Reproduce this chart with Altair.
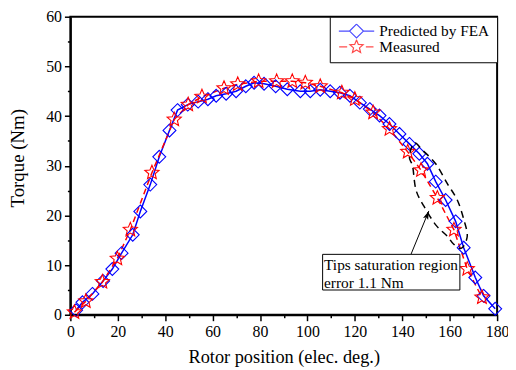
import altair as alt
import pandas as pd

# ---------------- data ----------------
fea_x = [2.4, 5.1, 9.3, 13.8, 17.7, 21.6, 26.3, 29.5, 33.7, 37.5, 41.8, 45.2, 49.5,
         53.9, 58.0, 61.5, 65.7, 69.9, 74.0, 77.5, 81.7, 86.6, 91.5, 97.0, 101.2,
         105.4, 109.6, 113.7, 117.9, 122.1, 126.3, 130.4, 134.6, 138.8, 143.0,
         147.2, 150.6, 154.1, 158.3, 162.5, 165.9, 170.8, 174.3, 179.2]
fea_y = [0.9, 2.5, 4.2, 6.8, 9.2, 12.4, 16.1, 20.8, 26.2, 31.8, 37.1, 41.2, 42.3,
         42.9, 43.4, 44.1, 44.5, 45.0, 46.0, 46.7, 46.5, 46.0, 45.4, 45.0, 45.0,
         45.3, 45.0, 44.7, 44.1, 42.7, 41.4, 40.1, 38.4, 36.4, 34.4,
         32.4, 30.4, 26.8, 23.1, 18.8, 13.5, 7.5, 3.8, 1.2]

meas_x = [1.7, 6.5, 13.5, 19.8, 25.3, 34.4, 43.8, 49.7, 55.5, 64.8, 70.6, 79.4,
          87.0, 93.6, 99.1, 105.4, 114.5, 120.0, 127.7, 134.6, 142.3, 147.9,
          154.8, 161.8, 167.4, 173.6]
meas_y = [0.5, 2.7, 6.6, 11.3, 17.1, 28.6, 39.3, 42.3, 43.9, 45.6, 46.4, 47.0,
          47.0, 47.0, 46.7, 46.0, 44.7, 43.4, 40.7, 37.4, 32.8, 29.1,
          23.5, 17.1, 9.2, 3.5]

series_names = ["Predicted by FEA", "Measured"]
series_colors = ["#0000FF", "#FF0000"]

# annotation (dashed ellipse, arrow, text box)
ell_x = [145.0, 143.0, 144.4, 145.8, 149.2, 154.1, 159.0, 161.5, 165.0,
         167.4, 166.0, 163.2, 159.0, 154.1, 148.6]
ell_y = [34.6, 31.8, 29.8, 25.1, 21.8, 18.1, 15.8, 14.3, 13.4,
         15.8, 19.1, 23.1, 26.4, 30.4, 33.1]
arrow_x = [143.7, 151.2]
arrow_y = [12.2, 20.9]
box_x = [106.4]
box_x2 = [164.3]
box_y = [12.16]
box_y2 = [4.98]
note_lines = ["Tips saturation region", "error 1.1 Nm"]
note_x = [107.0, 107.0]
note_y = [10.1, 6.4]

x_ticks = list(range(0, 181, 10))
y_ticks = list(range(0, 61, 5))

# ---------------- styling ----------------
SERIF = "Liberation Serif"
DIAMOND = "M0,-1L1,0L0,1L-1,0Z"
STAR = ("M0,-1L0.265,-0.364L0.951,-0.309L0.428,0.139L0.588,0.809L0,0.45"
        "L-0.588,0.809L-0.428,0.139L-0.951,-0.309L-0.265,-0.364Z")
LEG_FEA = "M-2.55,0H-1M1,0H2.55" + DIAMOND
LEG_MEAS = "M-2.5,0H-1.35M1.35,0H2.45" + STAR

xscale = alt.Scale(domain=[0, 180], nice=False, zero=False)
yscale = alt.Scale(domain=[0, 60], nice=False, zero=False)

axis_common = dict(
    grid=False, labelFlush=False, labelOverlap=False,
    labelFont=SERIF, labelFontSize=16, labelColor="black",
    titleFont=SERIF, titleFontWeight="normal", titleColor="black",
    domainColor="black", domainWidth=2, tickColor="black", tickWidth=1.5,
)
xaxis = alt.Axis(
    values=x_ticks,
    labelExpr="datum.value % 20 == 0 ? datum.label : ''",
    tickSize={"condition": {"test": "datum.value % 20 == 0", "value": 6}, "value": 3},
    title="Rotor position (elec. deg.)", titleFontSize=18.5,
    labelPadding=3, titlePadding=8,
    **axis_common,
)
yaxis = alt.Axis(
    values=y_ticks,
    labelExpr="datum.value % 10 == 0 ? datum.label : ''",
    tickSize={"condition": {"test": "datum.value % 10 == 0", "value": 6}, "value": 3},
    title="Torque (Nm)", titleFontSize=19, titleY=142.5,
    labelPadding=3, titlePadding=18,
    **axis_common,
)


def X(field="x"):
    return alt.X(f"{field}:Q", scale=xscale, axis=xaxis)


def Y(field="y"):
    return alt.Y(f"{field}:Q", scale=yscale, axis=yaxis)


fea = pd.DataFrame({"x": fea_x, "y": fea_y, "series": series_names[0]})
meas = pd.DataFrame({"x": meas_x, "y": meas_y, "series": series_names[1]})
both = pd.concat([fea, meas], ignore_index=True)
ell = pd.DataFrame({"x": ell_x, "y": ell_y, "o": list(range(len(ell_x)))})
arrow = pd.DataFrame({"x": arrow_x, "y": arrow_y, "o": [0, 1]})
tip = pd.DataFrame({"x": arrow_x[-1:], "y": arrow_y[-1:]})
box = pd.DataFrame({"x": box_x, "x2": box_x2, "y": box_y, "y2": box_y2})
note = pd.DataFrame({"x": note_x, "y": note_y, "t": note_lines})

fea_line = alt.Chart(fea).mark_line(color=series_colors[0], strokeWidth=1.5).encode(x=X(), y=Y())
meas_line = alt.Chart(meas).mark_line(
    color=series_colors[1], strokeWidth=1.5, strokeDash=[6, 4]).encode(x=X(), y=Y())
fea_pts = alt.Chart(fea).mark_point(
    shape=DIAMOND, size=169, filled=False, color=series_colors[0], strokeWidth=1.1, opacity=1
).encode(x=X(), y=Y())
meas_pts = alt.Chart(meas).mark_point(
    shape=STAR, size=225, filled=False, color=series_colors[1], strokeWidth=1.1, opacity=1
).encode(x=X(), y=Y())

ellipse = alt.Chart(ell).mark_line(
    color="black", strokeWidth=1.5, strokeDash=[7, 5], interpolate="cardinal-closed"
).encode(x=X(), y=Y(), order="o:Q")
arrow_line = alt.Chart(arrow).mark_line(color="black", strokeWidth=1).encode(x=X(), y=Y(), order="o:Q")
arrow_head = alt.Chart(tip).mark_point(
    shape="M0,0L-0.7,2.2L0,1.7L0.7,2.2Z", size=64, filled=True, color="black",
    angle=22, opacity=1
).encode(x=X(), y=Y())

note_box = alt.Chart(box).mark_rect(fill="white", stroke="black", strokeWidth=1).encode(
    x=X(), x2="x2:Q", y=Y(), y2="y2:Q")
note_text = alt.Chart(note).mark_text(
    align="left", baseline="middle", font=SERIF, fontSize=15.5, color="black"
).encode(x=X(), y=Y(), text="t:N")

legend = alt.Legend(
    title=None, orient="top-right", offset=0, padding=7,
    strokeColor="black", fillColor="white",
    labelFont=SERIF, labelFontSize=15.5, labelColor="black",
    symbolSize=196, symbolStrokeWidth=1.2, symbolOffset=12, labelOffset=15,
    clipHeight=15, rowPadding=-1,
)
legend_layer = alt.Chart(both).transform_filter("false").mark_point(filled=False).encode(
    x=X(), y=Y(),
    color=alt.Color("series:N", scale=alt.Scale(domain=series_names, range=series_colors),
                    legend=legend),
    shape=alt.Shape("series:N", scale=alt.Scale(domain=series_names, range=[LEG_FEA, LEG_MEAS]),
                    legend=legend),
)

chart = alt.layer(
    fea_line, meas_line, fea_pts, meas_pts, ellipse, arrow_line, arrow_head,
    note_box, note_text, legend_layer
).properties(
    width=431, height=301,
    autosize=alt.AutoSizeParams(type="none"),
    padding={"left": 63, "top": 7, "right": 11, "bottom": 54},
    background="white",
).configure(
    font=SERIF
).configure_view(
    stroke="black", strokeWidth=2
).configure_axis(
    labelFont=SERIF, titleFont=SERIF, titleFontWeight="normal",
).configure_legend(
    labelFont=SERIF,
)

chart.save("out.html", embed_options={"renderer": "svg", "actions": False})
